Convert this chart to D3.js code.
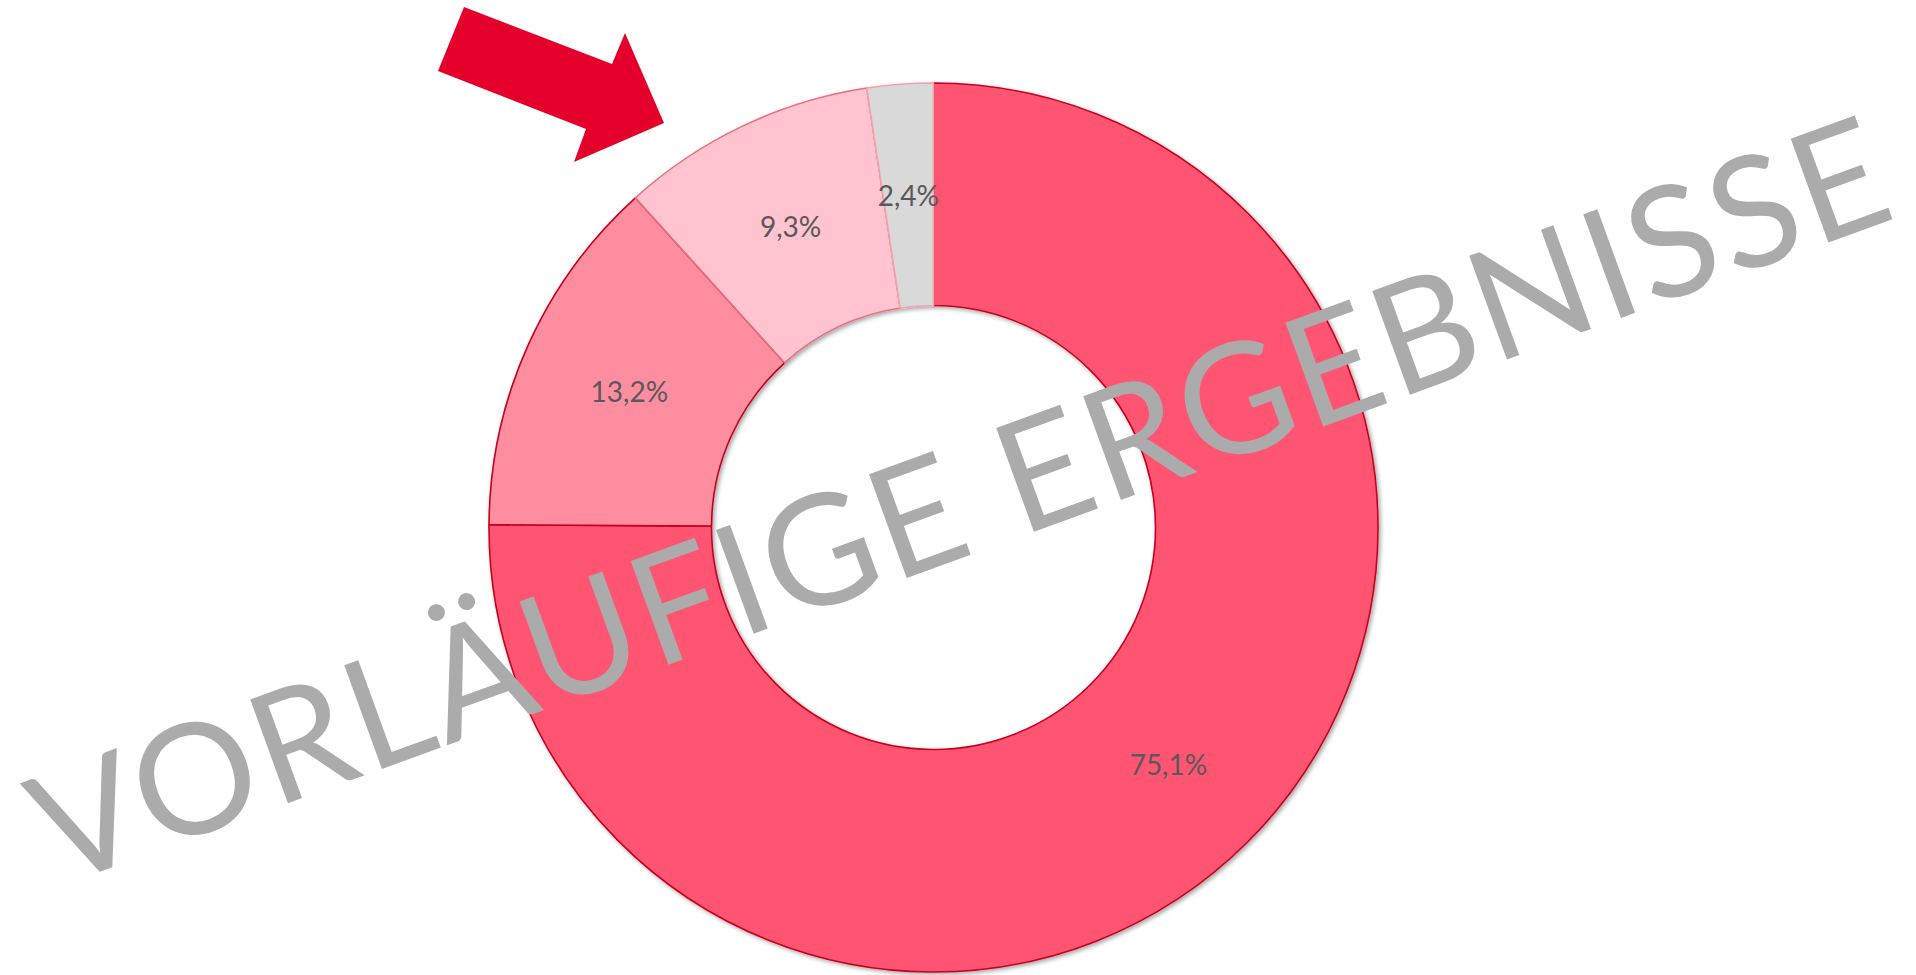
<!DOCTYPE html>
<html>
<head>
<meta charset="utf-8">
<script src="https://cdn.jsdelivr.net/npm/d3@7"></script>
<style>
  html, body { margin: 0; padding: 0; background: #ffffff; overflow: hidden; }
  svg { display: block; }
</style>
</head>
<body>
<svg id="chart" width="1916" height="975"></svg>
<script>
// ---- data ----
const categories = ["A", "B", "C", "D"];
const values = [75.1, 13.2, 9.3, 2.4];
const labels = ["75,1%", "13,2%", "9,3%", "2,4%"];
const fillColors = ["#FF5573", "#FF8DA0", "#FFC4CF", "#D9D9D9"];
const strokeColors = ["#C8001F", "#C8001F", "#E8707F", "#F0A3AC"];
const watermarkText = "VORLÄUFIGE ERGEBNISSE";
const arrowShape = [[464, 7], [612, 64], [625, 33], [664, 123], [574, 162], [586, 129], [438, 71]];

const svg = d3.select("#chart");
const cx = 933.5, cy = 527.5;
const outerR = 444.5, innerR = 222;

const defs = svg.append("defs");
const f = defs.append("filter").attr("id", "shadow")
  .attr("x", "-10%").attr("y", "-10%").attr("width", "120%").attr("height", "120%");
f.append("feDropShadow").attr("dx", 2).attr("dy", 2).attr("stdDeviation", 2)
  .attr("flood-color", "#000").attr("flood-opacity", 0.35);

const data = categories.map((c, i) => ({ cat: c, value: values[i], label: labels[i], fill: fillColors[i], stroke: strokeColors[i] }));

const pie = d3.pie().sort(null).value(d => d.value).startAngle(0).endAngle(2 * Math.PI);
const arc = d3.arc().innerRadius(innerR).outerRadius(outerR);
const arcs = pie(data);

const g = svg.append("g").attr("transform", `translate(${cx},${cy})`);
g.append("g").attr("filter", "url(#shadow)")
  .selectAll("path").data(arcs).join("path")
  .attr("d", arc)
  .attr("fill", d => d.data.fill)
  .attr("stroke", d => d.data.stroke)
  .attr("stroke-width", 1.6)
  .attr("stroke-linejoin", "round");

g.selectAll("text.lbl").data(arcs).join("text")
  .attr("class", "lbl")
  .attr("transform", d => `translate(${arc.centroid(d)})`)
  .attr("text-anchor", "middle")
  .attr("dominant-baseline", "central")
  .attr("font-family", "Lato, 'Open Sans', sans-serif")
  .attr("font-size", 28)
  .attr("fill", "#595959")
  .text(d => d.data.label);

// red arrow
svg.append("polygon")
  .attr("points", arrowShape.map(p => p.join(",")).join(" "))
  .attr("fill", "#E4002B");

// watermark
svg.append("text")
  .attr("transform", "translate(978,552) rotate(-20)")
  .attr("text-anchor", "middle")
  .attr("font-family", "Lato, 'DejaVu Sans', sans-serif")
  .attr("font-size", 154)
  .attr("fill", "#ABABAB")
  .attr("textLength", 1960)
  .attr("lengthAdjust", "spacing")
  .text(watermarkText);
</script>
</body>
</html>
